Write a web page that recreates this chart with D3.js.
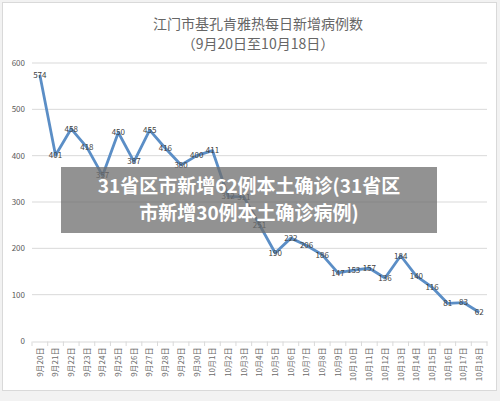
<!DOCTYPE html>
<html><head><meta charset="utf-8">
<script src="https://cdn.jsdelivr.net/npm/d3@7/dist/d3.min.js"></script>
<style>
html,body{margin:0;padding:0;background:#fff;}
svg{display:block;font-family:"Noto Sans CJK SC","Noto Sans",sans-serif;}
</style></head>
<body>
<svg id="c" width="500" height="401"></svg>
<script>
const categories = ["9月20日","9月21日","9月22日","9月23日","9月24日","9月25日","9月26日","9月27日","9月28日","9月29日","9月30日",
"10月1日","10月2日","10月3日","10月4日","10月5日","10月6日","10月7日","10月8日","10月9日","10月10日","10月11日","10月12日","10月13日","10月14日","10月15日","10月16日","10月17日","10月18日"];
const cases = [574,401,458,418,357,450,387,455,416,380,400,411,312,311,251,190,222,206,186,147,153,157,136,184,140,116,81,83,62];
const yTicks = [0,100,200,300,400,500,600];
const titleLines = ["江门市基孔肯雅热每日新增病例数","（9月20日至10月18日）"];
const overlayLines = ["31省区市新增62例本土确诊(31省区","市新增30例本土确诊病例)"];

const svg = d3.select("#c");
svg.append("rect").attr("x",0).attr("y",0).attr("width",500).attr("height",401).attr("fill","#f2f2f2");
svg.append("rect").attr("x",2.5).attr("y",2.5).attr("width",494).attr("height",388).attr("fill","#fff").attr("stroke","#d9d9d9");

const x = d3.scaleBand().domain(categories).range([32,487]);
const y = d3.scaleLinear().domain([0,600]).range([341,63]);

// gridlines
svg.append("g").selectAll("line").data(yTicks.filter(d=>d>0)).join("line")
  .attr("x1",32).attr("x2",487).attr("y1",d=>y(d)).attr("y2",d=>y(d))
  .attr("stroke","#d9d9d9").attr("stroke-width",1);

// y axis labels
const yAxis = d3.axisLeft(y).tickValues(yTicks).tickSize(0).tickPadding(7);
const gy = svg.append("g").attr("transform","translate(32,0)").call(yAxis);
gy.select(".domain").remove();
gy.selectAll("text").attr("fill","#595959").attr("font-size",8).attr("font-family","Noto Sans CJK SC");

// x axis
const xAxis = d3.axisBottom(x).tickSize(0).tickPadding(0);
const gx = svg.append("g").attr("transform","translate(0,341.5)").call(xAxis);
gx.select(".domain").attr("stroke","#d9d9d9");
gx.selectAll("text").attr("fill","#6b6b6b").attr("font-size",8).attr("font-family","Noto Sans CJK SC")
  .attr("text-anchor","end").attr("dy","0.35em")
  .attr("transform","translate(0,6) rotate(-90)");
// boundary tick marks
const bounds = categories.map(c=>x(c)).concat([x(categories[categories.length-1])+x.bandwidth()]);
svg.append("g").selectAll("line").data(bounds).join("line")
  .attr("x1",d=>d).attr("x2",d=>d).attr("y1",341.5).attr("y2",346)
  .attr("stroke","#d9d9d9");

// line
const cx = c=>x(c)+x.bandwidth()/2;
const line = d3.line().x((d,i)=>cx(categories[i])).y(d=>y(d));
svg.append("path").datum(cases).attr("d",line).attr("fill","none")
  .attr("stroke","#5b8ec6").attr("stroke-width",2.8).attr("stroke-linejoin","round");

// data labels
svg.append("g").selectAll("text").data(cases).join("text")
  .attr("x",(d,i)=>cx(categories[i])).attr("y",d=>y(d)).attr("dy","0.35em")
  .attr("text-anchor","middle").attr("font-size",8).attr("fill","#404040")
  .attr("font-family","Noto Sans CJK SC")
  .text(d=>d);

// title
svg.append("g").selectAll("text").data(titleLines).join("text")
  .attr("x",258).attr("y",(d,i)=>24+i*20).attr("dy","0.35em")
  .attr("text-anchor","middle").attr("font-size",14).attr("fill","#666666")
  .attr("font-family","Noto Sans CJK SC")
  .text(d=>d);

// overlay banner
svg.append("rect").attr("x",61).attr("y",167).attr("width",376).attr("height",66)
  .attr("fill","rgb(110,110,110)").attr("fill-opacity",0.75);
svg.append("g").selectAll("text").data(overlayLines).join("text")
  .attr("x",249).attr("y",(d,i)=>186+i*27).attr("dy","0.35em")
  .attr("text-anchor","middle").attr("font-size",19).attr("font-weight","bold").attr("fill","#fff")
  .attr("font-family","Noto Sans CJK SC")
  .text(d=>d);
</script>
</body></html>
